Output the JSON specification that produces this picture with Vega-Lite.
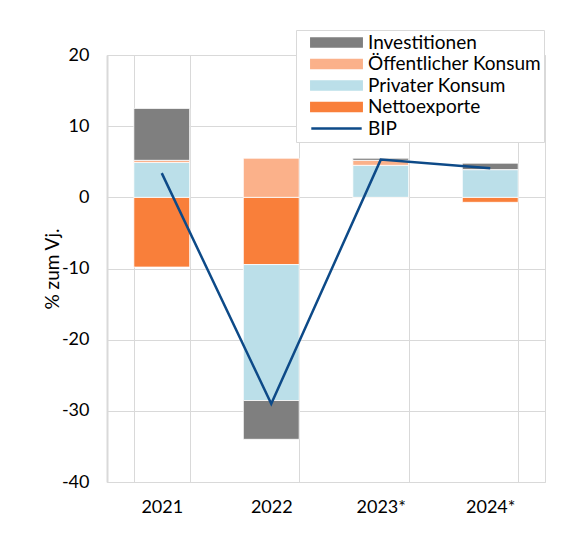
{
  "$schema": "https://vega.github.io/schema/vega-lite/v6.json",
  "width": 438,
  "height": 427,
  "autosize": "none",
  "padding": {"left": 107, "top": 55, "right": 22, "bottom": 55},
  "background": "white",
  "config": {
    "font": "Lato",
    "view": {"stroke": "#d9d9d9", "strokeWidth": 1},
    "axis": {
      "labelFont": "Lato",
      "labelFontSize": 18,
      "labelColor": "#000000",
      "titleFont": "Lato",
      "titleFontSize": 19,
      "titleFontWeight": "normal",
      "titleColor": "#000000",
      "gridColor": "#d9d9d9",
      "gridWidth": 1,
      "ticks": false
    }
  },
  "datasets": {
    "components": [
      {"year": "2021", "series": "Nettoexporte", "stack": 1, "value": -9.8},
      {"year": "2021", "series": "Privater Konsum", "stack": 2, "value": 4.9},
      {"year": "2021", "series": "Öffentlicher Konsum", "stack": 3, "value": 0.3},
      {"year": "2021", "series": "Investitionen", "stack": 4, "value": 7.3},
      {"year": "2022", "series": "Nettoexporte", "stack": 1, "value": -9.45},
      {"year": "2022", "series": "Privater Konsum", "stack": 2, "value": -19.1},
      {"year": "2022", "series": "Öffentlicher Konsum", "stack": 3, "value": 5.5},
      {"year": "2022", "series": "Investitionen", "stack": 4, "value": -5.45},
      {"year": "2023*", "series": "Nettoexporte", "stack": 1, "value": -0.1},
      {"year": "2023*", "series": "Privater Konsum", "stack": 2, "value": 4.5},
      {"year": "2023*", "series": "Öffentlicher Konsum", "stack": 3, "value": 0.7},
      {"year": "2023*", "series": "Investitionen", "stack": 4, "value": 0.3},
      {"year": "2024*", "series": "Nettoexporte", "stack": 1, "value": -0.7},
      {"year": "2024*", "series": "Privater Konsum", "stack": 2, "value": 3.9},
      {"year": "2024*", "series": "Öffentlicher Konsum", "stack": 3, "value": 0.0},
      {"year": "2024*", "series": "Investitionen", "stack": 4, "value": 0.9}
    ],
    "gdp": [
      {"year": "2021", "series": "BIP", "value": 3.4},
      {"year": "2022", "series": "BIP", "value": -29.0},
      {"year": "2023*", "series": "BIP", "value": 5.3},
      {"year": "2024*", "series": "BIP", "value": 4.1}
    ]
  },
  "encoding": {
    "x": {
      "field": "year",
      "type": "nominal",
      "sort": ["2021", "2022", "2023*", "2024*"],
      "scale": {"paddingInner": 0.49, "paddingOuter": 0.245},
      "axis": {
        "title": null,
        "labelAngle": 0,
        "labelPadding": 16,
        "domain": false,
        "grid": true,
        "tickBand": "extent"
      }
    },
    "color": {
      "field": "series",
      "type": "nominal",
      "scale": {
        "domain": ["Investitionen", "Öffentlicher Konsum", "Privater Konsum", "Nettoexporte", "BIP"],
        "range": ["#7f7f7f", "#fbb18a", "#bbdfe9", "#f97f3a", "#0d4a88"]
      },
      "legend": {
        "title": null,
        "orient": "none",
        "legendX": 189,
        "legendY": -25,
        "fillColor": "#ffffff",
        "strokeColor": "#d9d9d9",
        "padding": 3,
        "rowPadding": 1.5,
        "labelFont": "Lato",
        "labelFontSize": 19,
        "labelColor": "#000000",
        "labelLimit": 400,
        "symbolType": "M-3.15,-0.5H3.15V0.5H-3.15Z",
        "symbolSize": 256,
        "symbolOffset": 28,
        "labelOffset": 22,
        "symbolStrokeWidth": 2.5,
        "encode": {
          "symbols": {
            "update": {
              "shape": {"signal": "datum.label === 'BIP' ? 'M-3.15,0H3.15' : 'M-3.15,-0.5H3.15V0.5H-3.15Z'"},
              "fill": {"signal": "datum.label === 'BIP' ? 'transparent' : scale('color', datum.value)"},
              "stroke": {"signal": "datum.label === 'BIP' ? scale('color', datum.value) : 'transparent'"},
              "strokeWidth": {"value": 2.5},
              "opacity": {"value": 1}
            }
          }
        }
      }
    }
  },
  "layer": [
    {
      "data": {"name": "components"},
      "mark": {"type": "bar", "stroke": "#ffffff", "strokeWidth": 0.8},
      "encoding": {
        "y": {
          "field": "value",
          "type": "quantitative",
          "stack": "zero",
          "scale": {"domain": [-40, 20], "nice": false},
          "axis": {
            "title": "% zum Vj.",
            "values": [-40, -30, -20, -10, 0, 10, 20],
            "labelExpr": "datum.value < 0 ? '-' + abs(datum.value) : '' + datum.value",
            "labelPadding": 18,
            "titlePadding": -1,
            "domain": true,
            "domainColor": "#d9d9d9",
            "domainWidth": 2
          }
        },
        "order": {"field": "stack", "type": "quantitative"}
      }
    },
    {
      "mark": {"type": "rule", "strokeWidth": 2},
      "encoding": {"y": {"datum": 0}, "color": {"value": "#d9d9d9"}}
    },
    {
      "data": {"name": "gdp"},
      "mark": {"type": "line", "strokeWidth": 2.5},
      "encoding": {
        "y": {"field": "value", "type": "quantitative"}
      }
    }
  ]
}
